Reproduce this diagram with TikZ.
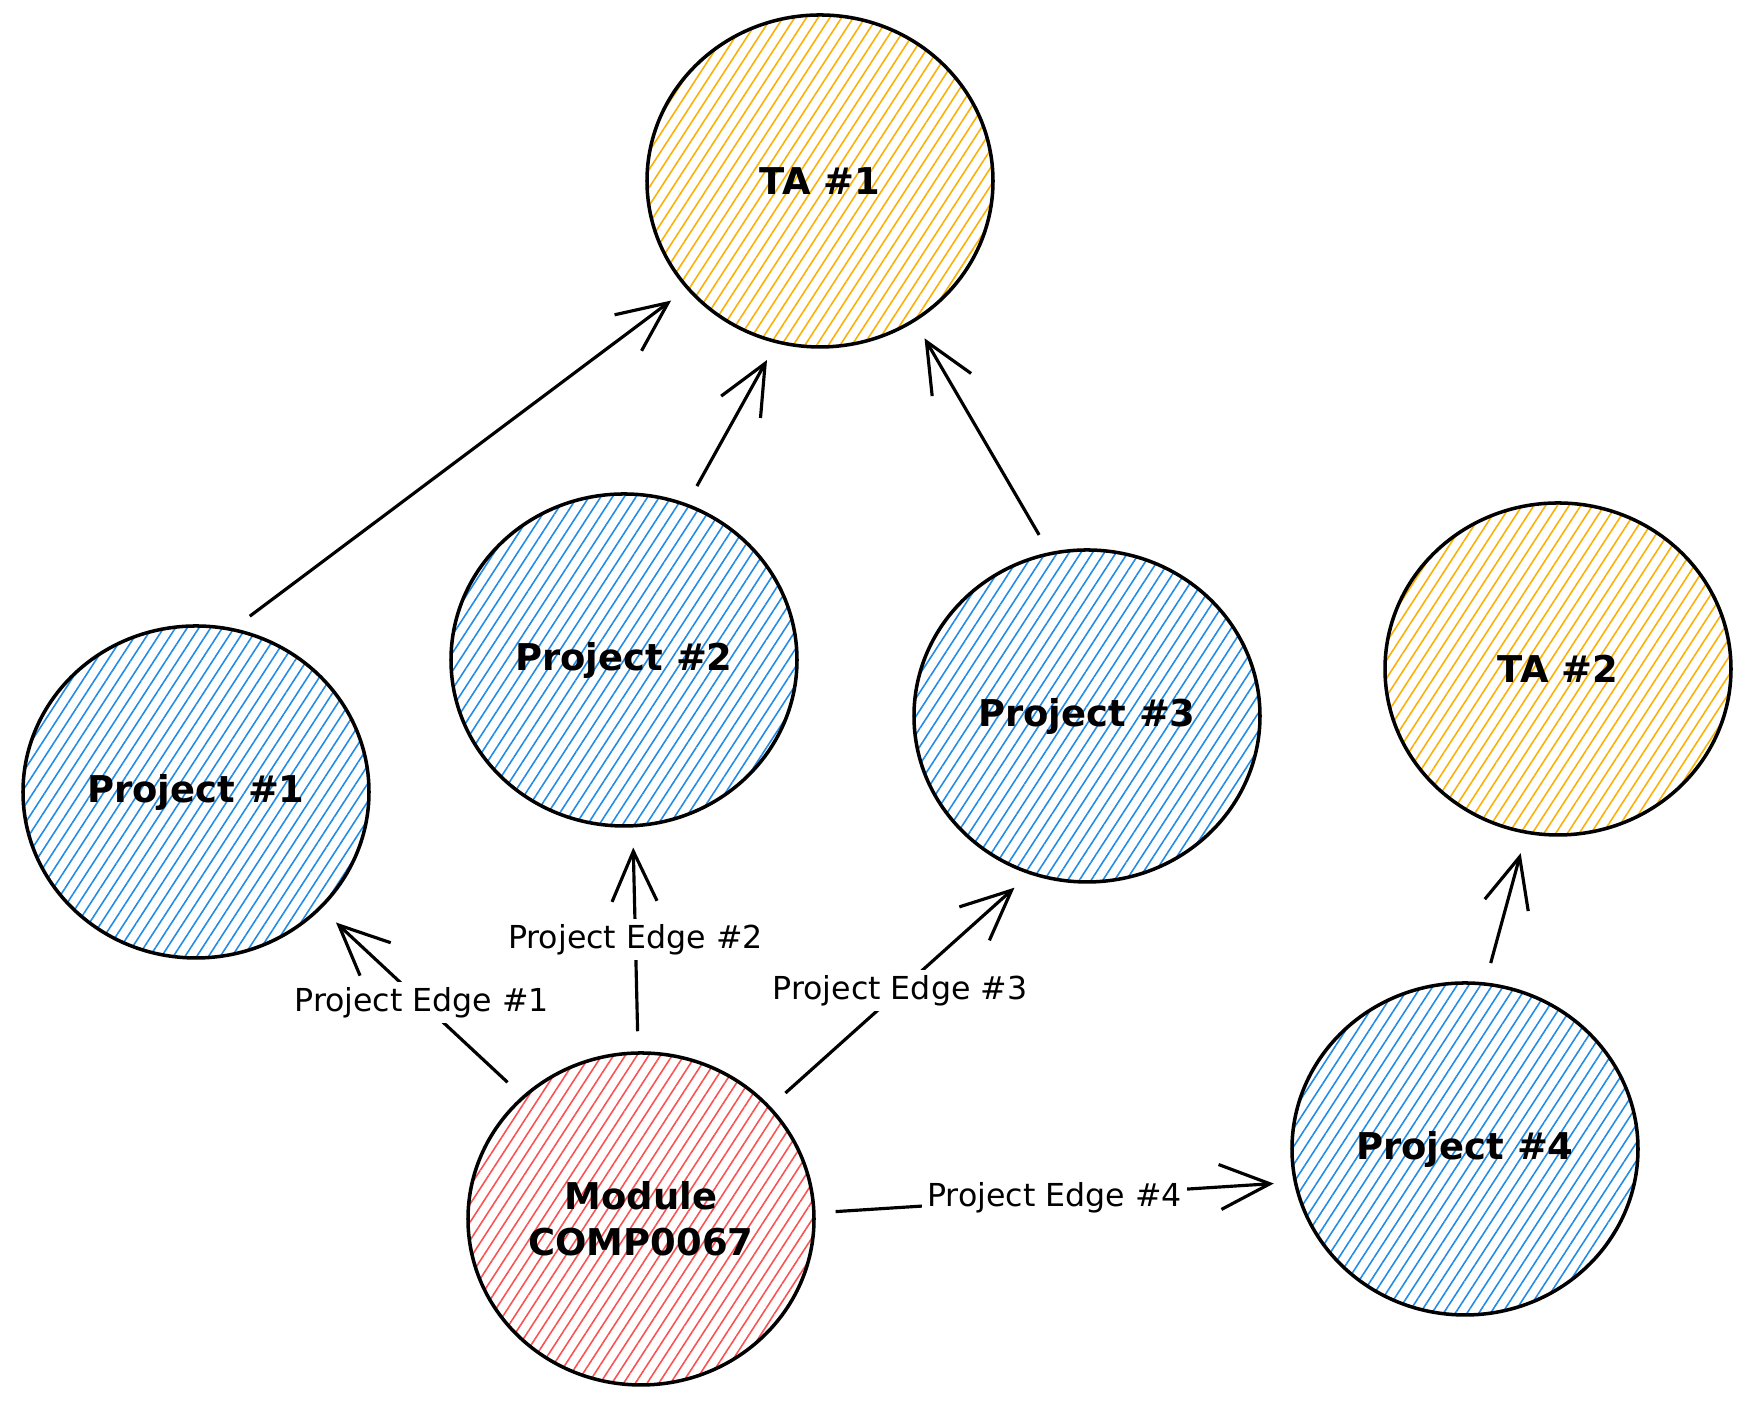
\documentclass[tikz,border=0pt]{standalone}
\usepackage{fontspec}
\setmainfont{DejaVu Sans}
\usetikzlibrary{arrows.meta,patterns.meta,shapes.geometric}
\definecolor{hatchblue}{HTML}{228BE6}
\definecolor{hatchorange}{HTML}{FAB005}
\definecolor{hatchred}{HTML}{FA5252}

\begin{document}
\begin{tikzpicture}[
	blob/.style={ellipse, draw, line width=1pt, minimum width=3.46cm, minimum height=3.32cm, inner sep=0pt, align=center, font=\fontsize{10.5}{13}\selectfont\bfseries},
	project/.style={blob, pattern={Lines[angle=57,distance=2.8pt,line width=0.45pt]}, pattern color=hatchblue},
	ta/.style={blob, pattern={Lines[angle=57,distance=2.8pt,line width=0.45pt]}, pattern color=hatchorange},
	module/.style={blob, pattern={Lines[angle=57,distance=2.8pt,line width=0.45pt]}, pattern color=hatchred},
	link/.style={line width=0.9pt, -{Straight Barb[length=5mm,width=4.5mm]}, shorten >=2mm, shorten <=2mm},
	lbl/.style={fill=white, inner sep=1.5pt, font=\fontsize{9}{11}\selectfont}]
		\useasboundingbox (0,0) rectangle (17.54,14.04);
		% nodes
		\node (ta1)[ta] at (8.20,12.23) {TA \#1};
		\node (ta2)[ta] at (15.58,7.35) {TA \#2};
		\node (p1)[project] at (1.96,6.12) {Project \#1};
		\node (p2)[project] at (6.24,7.44) {Project \#2};
		\node (p3)[project] at (10.87,6.88) {Project \#3};
		\node (p4)[project] at (14.65,2.55) {Project \#4};
		\node (mod)[module] at (6.41,1.85) {Module\\COMP0067};
		% projects to TAs
		\draw [link] (p1.77) -- (ta1.-141);
		\draw [link] (p2.68) -- (ta1.-105);
		\draw [link] (p3.103) -- (ta1.-56);
		\draw [link] (p4.83) -- (ta2.-101);
		% module to projects
		\draw [link] (mod.134) -- node [lbl]{Project Edge \#1} (p1.-43);
		\draw [link] (mod.91) -- node [lbl]{Project Edge \#2} (p2.-87);
		\draw [link] (mod.41) -- node [lbl]{Project Edge \#3} (p3.-110);
		\draw [link] (mod.2) -- node [lbl]{Project Edge \#4} (p4.-169);
	\end{tikzpicture}
\end{document}
